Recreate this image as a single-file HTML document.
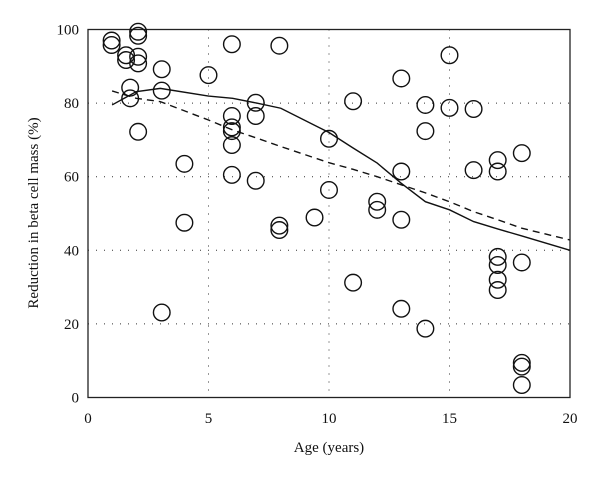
<!DOCTYPE html>
<html><head><meta charset="utf-8"><style>
body{margin:0;background:#fff}
svg text{font-family:"Liberation Serif",serif;font-size:15px;fill:#111}
</style></head><body>
<svg id="chart" width="600" height="477" xmlns="http://www.w3.org/2000/svg">
<g id="grid"></g>
<g id="axes"></g>
<g id="marks"></g>
<g id="curves"></g>
<text x="329" y="452" text-anchor="middle">Age (years)</text>
<text transform="translate(38,213) rotate(-90)" text-anchor="middle">Reduction in beta cell mass (%)</text>
</svg>
<script>
const xTicks=[0,5,10,15,20];
const yTicks=[0,20,40,60,80,100];
const ageX=[0.98,0.98,1.58,1.58,2.08,2.08,2.08,2.08,1.75,1.75,2.08,3.06,3.06,3.06,4,4,5,5.97,5.97,5.97,5.97,5.97,5.97,6.96,6.96,6.96,7.94,7.94,7.94,9.4,10,10,11,11,12,12,13,13,13,13,14,14,14,15,15,16,16,17,17,17,17,17,17,18,18,18,18,18];
const reductionY=[97,95.8,93,91.7,99.4,98.3,92.6,90.8,84.2,81.3,72.2,89.2,83.4,23.1,63.5,47.5,87.6,96,76.5,73.4,72.4,68.6,60.5,80.1,76.5,58.9,95.6,46.7,45.5,48.9,70.3,56.4,80.5,31.2,53.2,51,86.7,61.4,48.3,24.1,79.5,72.4,18.7,93,78.7,78.4,61.8,64.5,61.4,38.2,36,32,29.2,66.4,36.7,9.4,8.4,3.4];
const solidX=[1,2,3,5,6,7,8,10,11,12,13,14,15,16,17,18,20];
const solidY=[79.5,83.1,84,81.9,81.3,80,78.6,72,67.8,63.7,58.2,53.2,51,47.8,45.8,43.9,40];
const dashX=[1,2,3,5,6,7,8,10,11,12,13,14,15,16,17,18,20];
const dashY=[83.3,81.3,80.4,75.4,72.7,70.5,68.2,63.8,62,60,57.8,55.6,53.2,50.5,48.3,46,42.8];
const L=88,R=570,T=29.5,B=397.5;
const sx=v=>L+(v-0)/20*(R-L), sy=v=>B-(v/100)*(B-T);
const NS="http://www.w3.org/2000/svg";
function mk(tag,attrs,parent){const e=document.createElementNS(NS,tag);for(const k in attrs)e.setAttribute(k,attrs[k]);parent.appendChild(e);return e;}
const grid=document.getElementById('grid'),axes=document.getElementById('axes'),marks=document.getElementById('marks'),curves=document.getElementById('curves');
xTicks.forEach(t=>{
  if(t>0&&t<20){const g=mk('line',{x1:sx(t),x2:sx(t),y1:T,y2:B,stroke:'#333','stroke-width':1,'stroke-dasharray':'1,7'},grid);
  
  }
  const tx=mk('text',{x:sx(t),y:423,'text-anchor':'middle'},axes);tx.textContent=t;
  
  
});
yTicks.forEach(t=>{
  if(t>0&&t<100){const g=mk('line',{x1:L,x2:R,y1:sy(t),y2:sy(t),stroke:'#333','stroke-width':1,'stroke-dasharray':'1,7'},grid);
  
  }
  const tx=mk('text',{x:79,y:sy(t)+5,'text-anchor':'end'},axes);tx.textContent=t;
  
  
});
const frame=mk('rect',{x:L,y:T,width:R-L,height:B-T,fill:'none',stroke:'#222','stroke-width':1.3},axes);


ageX.forEach((a,i)=>{
  const c=mk('circle',{cx:sx(a),cy:sy(reductionY[i]),r:8.3,fill:'none',stroke:'#111','stroke-width':1.4},marks);
  
  
});
const sp=mk('polyline',{points:solidX.map((x,i)=>sx(x)+','+sy(solidY[i])).join(' '),fill:'none',stroke:'#111','stroke-width':1.4},curves);


const dp=mk('polyline',{points:dashX.map((x,i)=>sx(x)+','+sy(dashY[i])).join(' '),fill:'none',stroke:'#111','stroke-width':1.4,'stroke-dasharray':'7,5'},curves);


</script>
</body></html>
